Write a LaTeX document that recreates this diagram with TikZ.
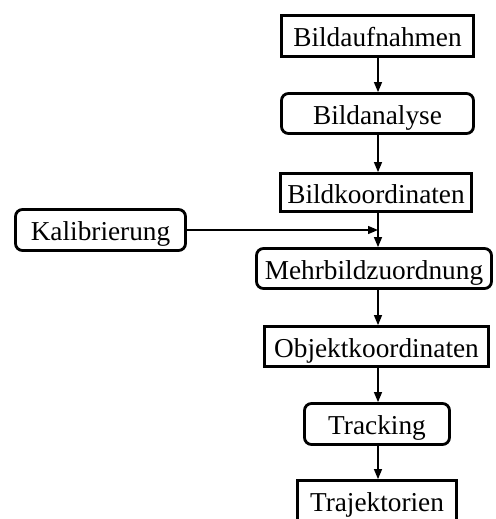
\documentclass[tikz,border=0pt]{standalone}
\usepackage{fontspec}
\setmainfont{Liberation Serif}
\usetikzlibrary{arrows.meta}
\begin{document}
\begin{tikzpicture}[x=1pt,y=-1pt,
  box/.style={draw, line width=2.8pt, inner sep=0pt, align=center,
    font=\fontsize{27.3}{32}\selectfont, text height=21pt, text depth=0pt},
  sq/.style={box},
  rd/.style={box, rounded corners=7pt},
  arr/.style={line width=1.3pt, -{Triangle[length=10pt,width=8pt]}}]
\useasboundingbox (0,0) rectangle (495,519);
\coordinate (ax) at (378,0);
\node[sq, minimum width=192pt, minimum height=41pt] (ba) at (377.5,36) {Bildaufnahmen};
\node[rd, minimum width=192pt, minimum height=40pt] (an) at (377.5,113.5) {Bildanalyse};
\node[sq, minimum width=191pt, minimum height=38pt] (bk) at (376,192.5) {Bildkoordinaten};
\node[rd, minimum width=170pt, minimum height=41pt] (ka) at (100.5,230) {Kalibrierung};
\node[rd, minimum width=235pt, minimum height=40pt] (mz) at (374,268.5) {Mehrbildzuordnung};
\node[sq, minimum width=224pt, minimum height=40pt] (ok) at (376.5,346.5) {Objektkoordinaten};
\node[rd, minimum width=145pt, minimum height=41pt] (tr) at (377,424) {Tracking};
\node[sq, minimum width=159pt, minimum height=41pt] (tj) at (377,501) {Trajektorien};
\coordinate (kj) at (ax |- ka.east);
\draw[arr] (ba.south -| ax) -- (an.north -| ax);
\draw[arr] (an.south -| ax) -- (bk.north -| ax);
\draw[arr] (bk.south -| ax) -- (mz.north -| ax);
\draw[arr] (ka.east) -- (kj);
\draw[arr] (mz.south -| ax) -- (ok.north -| ax);
\draw[arr] (ok.south -| ax) -- (tr.north -| ax);
\draw[arr] (tr.south -| ax) -- (tj.north -| ax);
\end{tikzpicture}
\end{document}
